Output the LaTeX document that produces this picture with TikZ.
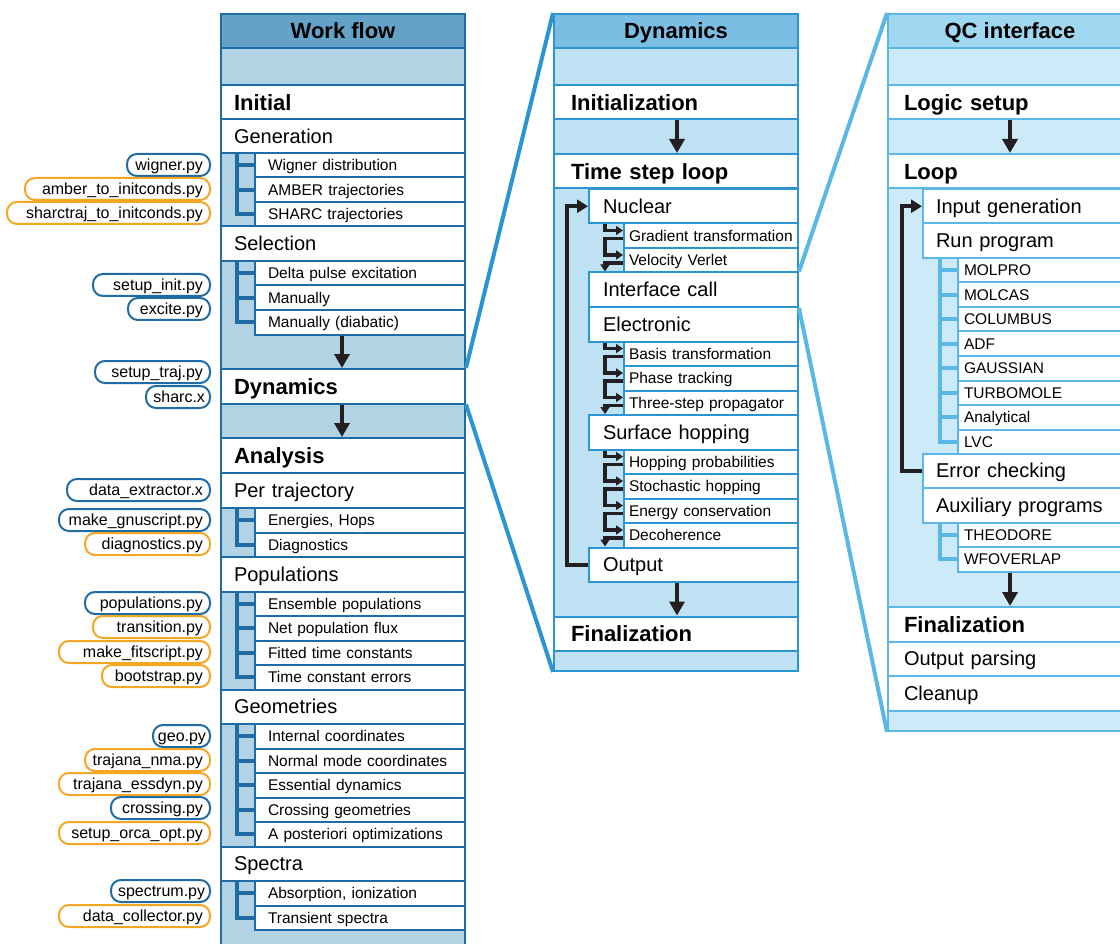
\documentclass[tikz,border=0pt]{standalone}
\usepackage{fontspec}
\setmainfont{Liberation Sans}
\usetikzlibrary{arrows.meta,calc}
\definecolor{wfhead}{HTML}{64A3C7}
\definecolor{wfbody}{HTML}{B2D3E4}
\definecolor{wfline}{HTML}{1F6BA3}
\definecolor{dyhead}{HTML}{7BBDE3}
\definecolor{dybody}{HTML}{BEE1F4}
\definecolor{dyline}{HTML}{2A95D0}
\definecolor{qchead}{HTML}{A0D7F1}
\definecolor{qcbody}{HTML}{CDEAF9}
\definecolor{qcline}{HTML}{5BB8E6}
\definecolor{ink}{HTML}{231F20}
\definecolor{pillblue}{HTML}{1F6BA3}
\definecolor{pillorange}{HTML}{F5A623}
\tikzset{
  fbig/.style={font=\fontsize{22}{26}\selectfont\bfseries, text height=15.8pt, text depth=0pt},
  fmid/.style={font=\fontsize{20}{24}\selectfont, text height=14.3pt, text depth=0pt},
  fsmall/.style={font=\fontsize{15.5}{18}\selectfont, text height=11.1pt, text depth=0pt},
  rw/.code 2 args={\pgfmathsetmacro\rwtmp{#1-2*#2}\tikzset{minimum width=#1pt, text width=\rwtmp pt, inner xsep=#2pt}},
  row/.style={anchor=north west, fill=white, line width=2pt, inner ysep=0pt, align=left},
  wfmain/.style={row, draw=wfline, rw={244}{13}, minimum height=34.5pt},
  wfsub/.style={row, draw=wfline, rw={210}{13}, minimum height=24.5pt, fsmall},
  dymain/.style={row, draw=dyline, rw={244}{17}, minimum height=34.5pt, fbig},
  dymid/.style={row, draw=dyline, rw={209}{14}, minimum height=34.5pt, fmid},
  dysub/.style={row, draw=dyline, rw={174}{5}, minimum height=24.5pt, fsmall},
  qcmain/.style={row, draw=qcline, rw={244}{16}, minimum height=34.5pt},
  qcmid/.style={row, draw=qcline, rw={209}{13}, minimum height=34.5pt, fmid},
  qcsub/.style={row, draw=qcline, rw={174}{6}, minimum height=24.5pt, fsmall},
  panel/.style={anchor=north west, line width=2pt, minimum width=244pt, inner sep=0pt},
  head/.style={anchor=north west, line width=2pt, minimum width=244pt, minimum height=34pt, inner sep=0pt, fbig},
  pill/.style={draw=#1, line width=2pt, rounded corners=10pt, fill=white, minimum height=22pt, inner ysep=0pt, anchor=east, align=right, font=\fontsize{16}{19}\selectfont, text height=14pt, text depth=3pt},
  pw/.code 2 args={\pgfmathsetmacro\pwtmp{#1-2*#2}\tikzset{text width=\pwtmp pt, inner xsep=#2pt}},
  bigarrow/.style={draw=ink, line width=4pt, -{Triangle[length=14pt,width=15pt]}},
  loopline/.style={draw=ink, line width=4.5pt, line join=miter, -{Triangle[length=11pt,width=13pt]}},
  chainarr/.style={draw=ink, line width=3.5pt, line join=miter, -{Triangle[length=7pt,width=9pt]}},
  wftree/.style={draw=wfline, line width=4pt},
  qctree/.style={draw=qcline, line width=4pt},
  dyzoom/.style={draw=dyline, line width=4pt},
  qczoom/.style={draw=qcline, line width=4pt},
}
\newcommand\pill[6]{\node[pill=#1, pw={#2}{#3}] (#4) at (211,#5) {#6};}
\newcommand\chainfirst[2]{\draw[chainarr] (#1.south -| dycx) |- ($(#2.north west)+(0,8)$);}
\newcommand\chainstep[2]{\draw[chainarr] ($(#1.north west)+(0,16)$) -| ($(#2.north west)+(-18,8)$) -- ($(#2.north west)+(0,8)$);}
\newcommand\chainlast[2]{\draw[chainarr] ($(#1.north west)+(0,16)$) -| (#2.north -| dycx);}
\begin{document}
\begin{tikzpicture}[x=1pt,y=-1pt]
\useasboundingbox (0,0) rectangle (1120,944);
\clip (0,0) rectangle (1120,944);
\coordinate (wftx) at (237,0);
\coordinate (wfax) at (342,0);
\coordinate (dyax) at (677,0);
\coordinate (dylx) at (567,0);
\coordinate (dycx) at (605,0);
\coordinate (qcax) at (1010,0);
\coordinate (qclx) at (902,0);
\coordinate (qctx) at (940,0);

% ---------------- Work flow panel ----------------
\node[panel, draw=wfline, fill=wfbody, minimum height=960pt] (wfpanel) at (220,13) {};
\node[head, draw=wfline, fill=wfhead] (wfhead) at (220,13) {Work flow};
\node[wfmain, fbig] (wfinit) at (220,84) {Initial};
\node[wfmain, fmid] (wfgen) at (220,118) {Generation};
\node[wfsub] (wfwig) at (254,152) {Wigner distribution};
\node[wfsub] (wfamb) at (254,176.5) {AMBER trajectories};
\node[wfsub] (wfsha) at (254,201) {SHARC trajectories};
\node[wfmain, fmid] (wfsel) at (220,225.5) {Selection};
\node[wfsub] (wfdel) at (254,260) {Delta pulse excitation};
\node[wfsub] (wfman) at (254,284.5) {Manually};
\node[wfsub] (wfmad) at (254,309) {Manually (diabatic)};
\node[wfmain, fbig] (wfdyn) at (220,368) {Dynamics};
\node[wfmain, fbig] (wfana) at (220,437) {Analysis};
\node[wfmain, fmid] (wfper) at (220,472) {Per trajectory};
\node[wfsub] (wfene) at (254,507) {Energies, Hops};
\node[wfsub] (wfdia) at (254,531.5) {Diagnostics};
\node[wfmain, fmid] (wfpop) at (220,556) {Populations};
\node[wfsub] (wfens) at (254,590.5) {Ensemble populations};
\node[wfsub] (wfnet) at (254,615) {Net population flux};
\node[wfsub] (wffit) at (254,639.5) {Fitted time constants};
\node[wfsub] (wftce) at (254,664) {Time constant errors};
\node[wfmain, fmid] (wfgeo) at (220,688.5) {Geometries};
\node[wfsub] (wfint) at (254,723) {Internal coordinates};
\node[wfsub] (wfnor) at (254,747.5) {Normal mode coordinates};
\node[wfsub] (wfess) at (254,772) {Essential dynamics};
\node[wfsub] (wfcro) at (254,796.5) {Crossing geometries};
\node[wfsub] (wfapo) at (254,821) {A posteriori optimizations};
\node[wfmain, fmid] (wfspe) at (220,845.5) {Spectra};
\node[wfsub] (wfabs) at (254,880) {Absorption, ionization};
\node[wfsub] (wftra) at (254,904.5) {Transient spectra};

% trees
\draw[wftree] (wfgen.south -| wftx) |- (wfsha.west);
\foreach \n in {wfwig,wfamb} \draw[wftree] (\n.west -| wftx) -- (\n.west);
\draw[wftree] (wfsel.south -| wftx) |- (wfmad.west);
\foreach \n in {wfdel,wfman} \draw[wftree] (\n.west -| wftx) -- (\n.west);
\draw[wftree] (wfper.south -| wftx) |- (wfdia.west);
\draw[wftree] (wfene.west -| wftx) -- (wfene.west);
\draw[wftree] (wfpop.south -| wftx) |- (wftce.west);
\foreach \n in {wfens,wfnet,wffit} \draw[wftree] (\n.west -| wftx) -- (\n.west);
\draw[wftree] (wfgeo.south -| wftx) |- (wfapo.west);
\foreach \n in {wfint,wfnor,wfess,wfcro} \draw[wftree] (\n.west -| wftx) -- (\n.west);
\draw[wftree] (wfspe.south -| wftx) |- (wftra.west);
\draw[wftree] (wfabs.west -| wftx) -- (wfabs.west);

% arrows
\draw[bigarrow] (wfmad.south -| wfax) -- (wfdyn.north -| wfax);
\draw[bigarrow] (wfdyn.south -| wfax) -- (wfana.north -| wfax);

% scripts
\pill{pillblue}{83}{7}{pwig}{165}{wigner.py}
\pill{pillorange}{185}{7}{pamb}{189}{amber\_to\_initconds.py}
\pill{pillorange}{203}{7}{psha}{213}{sharctraj\_to\_initconds.py}
\pill{pillblue}{117}{7}{psin}{285}{setup\_init.py}
\pill{pillblue}{82}{7}{pexc}{309}{excite.py}
\pill{pillblue}{115}{7}{pstr}{372}{setup\_traj.py}
\pill{pillblue}{64}{5}{pshx}{397}{sharc.x}
\pill{pillblue}{143}{7}{pdex}{490}{data\_extractor.x}
\pill{pillblue}{151}{7}{pgnu}{520}{make\_gnuscript.py}
\pill{pillorange}{125}{7}{pdia}{544}{diagnostics.py}
\pill{pillblue}{125}{7}{ppop}{603}{populations.py}
\pill{pillorange}{117}{7}{ptra}{627}{transition.py}
\pill{pillorange}{151}{7}{pfit}{652}{make\_fitscript.py}
\pill{pillorange}{108}{7}{pboo}{676}{bootstrap.py}
\pill{pillblue}{57}{4}{pgeo}{736}{geo.py}
\pill{pillorange}{125}{7}{pnma}{760}{trajana\_nma.py}
\pill{pillorange}{151}{7}{pess}{784}{trajana\_essdyn.py}
\pill{pillblue}{99}{7}{pcro}{808}{crossing.py}
\pill{pillorange}{151}{7}{porc}{833}{setup\_orca\_opt.py}
\pill{pillblue}{99}{7}{pspe}{891}{spectrum.py}
\pill{pillorange}{151}{7}{pcol}{916}{data\_collector.py}

% ---------------- Dynamics panel ----------------
\node[panel, draw=dyline, fill=dybody, minimum height=657pt] (dypanel) at (553,13) {};
\node[head, draw=dyline, fill=dyhead] (dyhead) at (553,13) {Dynamics};
\node[dymain] (dyinit) at (553,84) {Initialization};
\node[dymain] (dyloop) at (553,153) {Time step loop};
\node[dymid] (dynuc) at (588,188) {Nuclear};
\node[dysub] (dygra) at (623,222.5) {Gradient~transformation};
\node[dysub] (dyvel) at (623,247) {Velocity Verlet};
\node[dymid] (dyint) at (588,271.5) {Interface call};
\node[dymid] (dyele) at (588,306) {Electronic};
\node[dysub] (dybas) at (623,340.5) {Basis transformation};
\node[dysub] (dypha) at (623,365) {Phase tracking};
\node[dysub] (dythr) at (623,389.5) {Three-step propagator};
\node[dymid] (dysur) at (588,414) {Surface hopping};
\node[dysub] (dyhop) at (623,448.5) {Hopping probabilities};
\node[dysub] (dysto) at (623,473) {Stochastic hopping};
\node[dysub] (dyene) at (623,497.5) {Energy conservation};
\node[dysub] (dydec) at (623,522) {Decoherence};
\node[dymid] (dyout) at (588,546.5) {Output};
\node[dymain] (dyfin) at (553,615.5) {Finalization};

\draw[bigarrow] (dyinit.south -| dyax) -- (dyloop.north -| dyax);
\draw[bigarrow] (dyout.south -| dyax) -- (dyfin.north -| dyax);
\draw[loopline] (dyout.west) -| (dylx |- dynuc.west) -- (dynuc.west);
\chainfirst{dynuc}{dygra}
\chainstep{dygra}{dyvel}
\chainlast{dyvel}{dyint}
\chainfirst{dyele}{dybas}
\chainstep{dybas}{dypha}
\chainstep{dypha}{dythr}
\chainlast{dythr}{dysur}
\chainfirst{dysur}{dyhop}
\chainstep{dyhop}{dysto}
\chainstep{dysto}{dyene}
\chainstep{dyene}{dydec}
\chainlast{dydec}{dyout}

% ---------------- QC interface panel ----------------
\node[panel, draw=qcline, fill=qcbody, minimum height=717pt] (qcpanel) at (887,13) {};
\node[head, draw=qcline, fill=qchead] (qchead) at (887,13) {QC interface};
\node[qcmain, fbig] (qclog) at (887,84) {Logic setup};
\node[qcmain, fbig] (qcloop) at (887,153) {Loop};
\node[qcmid] (qcinp) at (922,188) {Input generation};
\node[qcmid] (qcrun) at (922,222.5) {Run program};
\node[qcsub] (qcmolp) at (957,257) {MOLPRO};
\node[qcsub] (qcmolc) at (957,281.5) {MOLCAS};
\node[qcsub] (qccol) at (957,306) {COLUMBUS};
\node[qcsub] (qcadf) at (957,330.5) {ADF};
\node[qcsub] (qcgau) at (957,355) {GAUSSIAN};
\node[qcsub] (qctur) at (957,379.5) {TURBOMOLE};
\node[qcsub] (qcana) at (957,404) {Analytical};
\node[qcsub] (qclvc) at (957,428.5) {LVC};
\node[qcmid] (qcerr) at (922,452.5) {Error checking};
\node[qcmid] (qcaux) at (922,487) {Auxiliary programs};
\node[qcsub] (qcthe) at (957,521.5) {THEODORE};
\node[qcsub] (qcwfo) at (957,546) {WFOVERLAP};
\node[qcmain, fbig] (qcfin) at (887,606) {Finalization};
\node[qcmain, fmid] (qcpar) at (887,640.5) {Output parsing};
\node[qcmain, fmid] (qccle) at (887,675) {Cleanup};

\draw[qctree] (qcrun.south -| qctx) |- (qclvc.west);
\foreach \n in {qcmolp,qcmolc,qccol,qcadf,qcgau,qctur,qcana} \draw[qctree] (\n.west -| qctx) -- (\n.west);
\draw[qctree] (qcaux.south -| qctx) |- (qcwfo.west);
\draw[qctree] (qcthe.west -| qctx) -- (qcthe.west);

\draw[bigarrow] (qclog.south -| qcax) -- (qcloop.north -| qcax);
\draw[bigarrow] (qcwfo.south -| qcax) -- (qcfin.north -| qcax);
\draw[loopline] (qcerr.west) -| (qclx |- qcinp.west) -- (qcinp.west);

% zoom connectors
\draw[dyzoom] (wfdyn.north east) -- (dypanel.north west);
\draw[dyzoom] (wfdyn.south east) -- (dypanel.south west);
\draw[qczoom] (dyint.north east) -- (qcpanel.north west);
\draw[qczoom] (dyint.south east) -- (qcpanel.south west);
\end{tikzpicture}
\end{document}
